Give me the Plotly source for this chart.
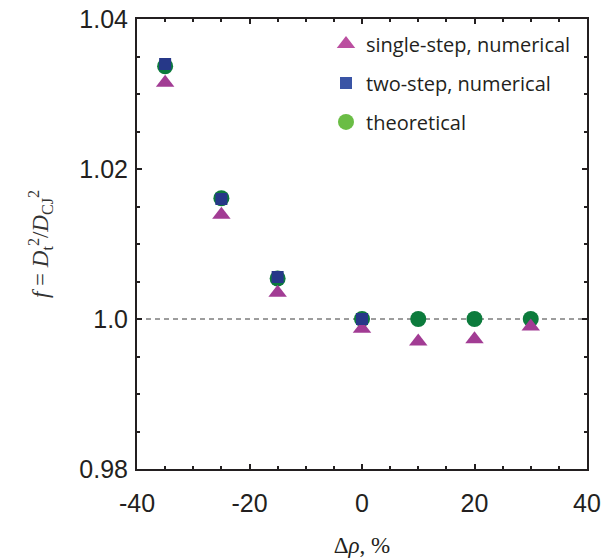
import plotly.graph_objects as go

# ---- data ----
delta_rho = [-35, -25, -15, 0, 10, 20, 30]
f_single = [1.0315, 1.0139, 1.0035, 0.9987, 0.9970, 0.9973, 0.9990]
x_two = [-35, -25, -15, 0]
f_two = [1.0340, 1.0160, 1.0056, 1.0000]
f_theory = [1.0337, 1.0161, 1.0054, 1.0000, 1.0000, 1.0000, 1.0000]

series_names = ["single-step, numerical", "two-step, numerical", "theoretical"]
x_ticks = [-40, -20, 0, 20, 40]
x_tick_text = ["-40", "-20", "0", "20", "40"]
y_ticks = [0.98, 1.0, 1.02, 1.04]
y_tick_text = ["0.98", "1.0", "1.02", "1.04"]

# ---- colours ----
tri_plot, sq_plot, cir_plot = "#a23c94", "#263888", "#0c7b3c"
tri_leg, sq_leg, cir_leg = "#bb4fa0", "#3a54a5", "#6abd45"
ink = "#231f20"

fig = go.Figure()

# reference line at f = 1
fig.add_trace(go.Scatter(x=[x_ticks[0], x_ticks[-1]], y=[1.0, 1.0], mode="lines",
                         line=dict(color="#3a3a3a", width=1, dash="5px,4px"),
                         showlegend=False, hoverinfo="skip"))

# data markers (drawing order: circles, triangles, squares)
fig.add_trace(go.Scatter(x=delta_rho, y=f_theory, mode="markers",
                         marker=dict(symbol="circle", size=16, color=cir_plot),
                         showlegend=False))
fig.add_trace(go.Scatter(x=delta_rho, y=f_single, mode="markers",
                         marker=dict(symbol="triangle-up", size=16, color=tri_plot),
                         showlegend=False))
fig.add_trace(go.Scatter(x=x_two, y=f_two, mode="markers",
                         marker=dict(symbol="square", size=12, color=sq_plot),
                         showlegend=False))

# legend entries
for name, sym, size, col, grp in [(series_names[0], "triangle-up", 16, tri_leg, "a"),
                                  (series_names[1], "square", 12, sq_leg, "b"),
                                  (series_names[2], "circle", 16, cir_leg, "c")]:
    fig.add_trace(go.Scatter(x=[None], y=[None], mode="markers", name=name,
                             legendgroup=grp,
                             marker=dict(symbol=sym, size=size, color=col)))

axis_common = dict(showline=True, linecolor=ink, linewidth=2, mirror="ticks",
                   ticks="inside", ticklen=5, tickwidth=1.5, tickcolor=ink,
                   showgrid=False, zeroline=False, automargin=False,
                   tickfont=dict(family="Liberation Sans", size=25, color=ink))

fig.update_layout(
    width=612, height=558,
    margin=dict(l=137, r=25, t=19, b=89),
    paper_bgcolor="white", plot_bgcolor="white",
    xaxis=dict(range=[-40, 40], tickvals=x_ticks, ticktext=x_tick_text,
               minor=dict(dtick=5, ticks="inside", ticklen=3, tickcolor=ink, tickwidth=1.5),
               ticklabelstandoff=11,
               title=dict(text="Δ<i>ρ</i>, %", standoff=21,
                          font=dict(family="Liberation Serif", size=23, color=ink)),
               **axis_common),
    yaxis=dict(range=[0.98, 1.04], tickvals=y_ticks, ticktext=y_tick_text,
               minor=dict(dtick=0.005, ticks="inside", ticklen=3, tickcolor=ink, tickwidth=1.5),
               ticklabelstandoff=2,
               title=dict(text="<i>f</i> = <i>D</i><sub>t</sub><sup>2</sup>/<i>D</i><sub>CJ</sub><sup>2</sup>",
                          standoff=24,
                          font=dict(family="Liberation Serif", size=23, color="#333")),
               **axis_common),
    legend=dict(x=0.42, y=0.988, xanchor="left", yanchor="top",
                bgcolor="rgba(0,0,0,0)", tracegroupgap=10,
                font=dict(family="Open Sans", size=20, color=ink)),
)

fig.write_html("out.html")
